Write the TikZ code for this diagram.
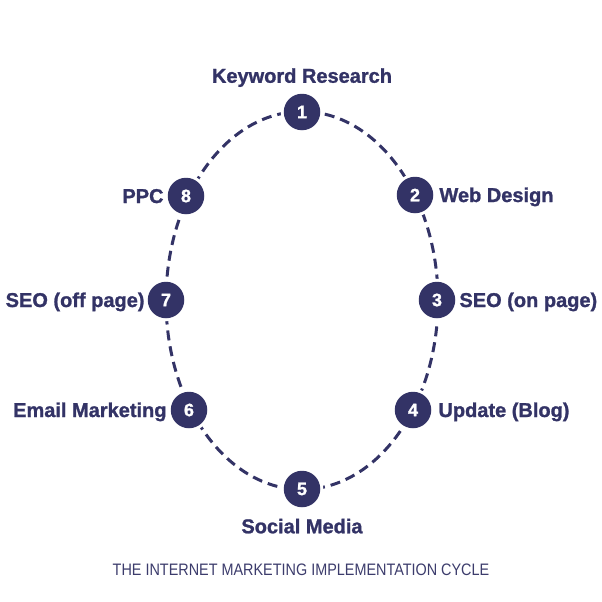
\documentclass[tikz,border=0pt]{standalone}
\usepackage{fontspec}
\usepackage{graphicx}
\setmainfont{Liberation Sans}[BoldFeatures={FakeBold=1.2}]
\definecolor{navy}{RGB}{51,51,102}
\definecolor{capcol}{RGB}{60,60,108}
\begin{document}
\begin{tikzpicture}[x=1pt,y=-1pt,
  stepnode/.style={circle, fill=navy, minimum size=36.5pt, inner sep=0pt, outer sep=0pt,
    preaction={draw=white, line width=6pt},
    text=white, font=\fontsize{18}{20}\bfseries\selectfont},
  lbl/.style={text=navy, inner sep=0pt, font=\fontsize{20}{22}\bfseries\selectfont},
  ring/.style={draw=navy, line width=3pt, dash pattern=on 10pt off 6pt}]
\useasboundingbox (0,0) rectangle (602,602);
\draw[ring] (302,300.5) ellipse [x radius=136pt, y radius=189pt];
\node[stepnode] (n1) at (302,112) {1};
\node[stepnode] (n2) at (415,195) {2};
\node[stepnode] (n3) at (437,300) {3};
\node[stepnode] (n4) at (413,410) {4};
\node[stepnode] (n5) at (302,489) {5};
\node[stepnode] (n6) at (189,410) {6};
\node[stepnode] (n7) at (166,300) {7};
\node[stepnode] (n8) at (186,196) {8};
\node[lbl, anchor=base] (l1) at ([yshift=11pt]n1.north) {Keyword Research};
\node[lbl, anchor=base west] (l2) at ([xshift=6pt,yshift=-7pt]n2.east) {Web Design};
\node[lbl, anchor=base west] (l3) at ([xshift=4pt,yshift=-7pt]n3.east) {SEO (on page)};
\node[lbl, anchor=base west] (l4) at ([xshift=7pt,yshift=-7pt]n4.east) {Update (Blog)};
\node[lbl, anchor=base] (l5) at ([yshift=-26pt]n5.south) {Social Media};
\node[lbl, anchor=base east] (l6) at ([xshift=-4pt,yshift=-7pt]n6.west) {Email Marketing};
\node[lbl, anchor=base east] (l7) at ([xshift=-3pt,yshift=-7pt]n7.west) {SEO (off page)};
\node[lbl, anchor=base east] (l8) at ([xshift=-4pt,yshift=-7pt]n8.west) {PPC};
\node[text=capcol, inner sep=0pt, anchor=base] (cap) at (301,575)
  {\scalebox{0.868}[1]{\fontsize{16.6}{20}\selectfont THE INTERNET MARKETING IMPLEMENTATION CYCLE}};
\end{tikzpicture}
\end{document}
